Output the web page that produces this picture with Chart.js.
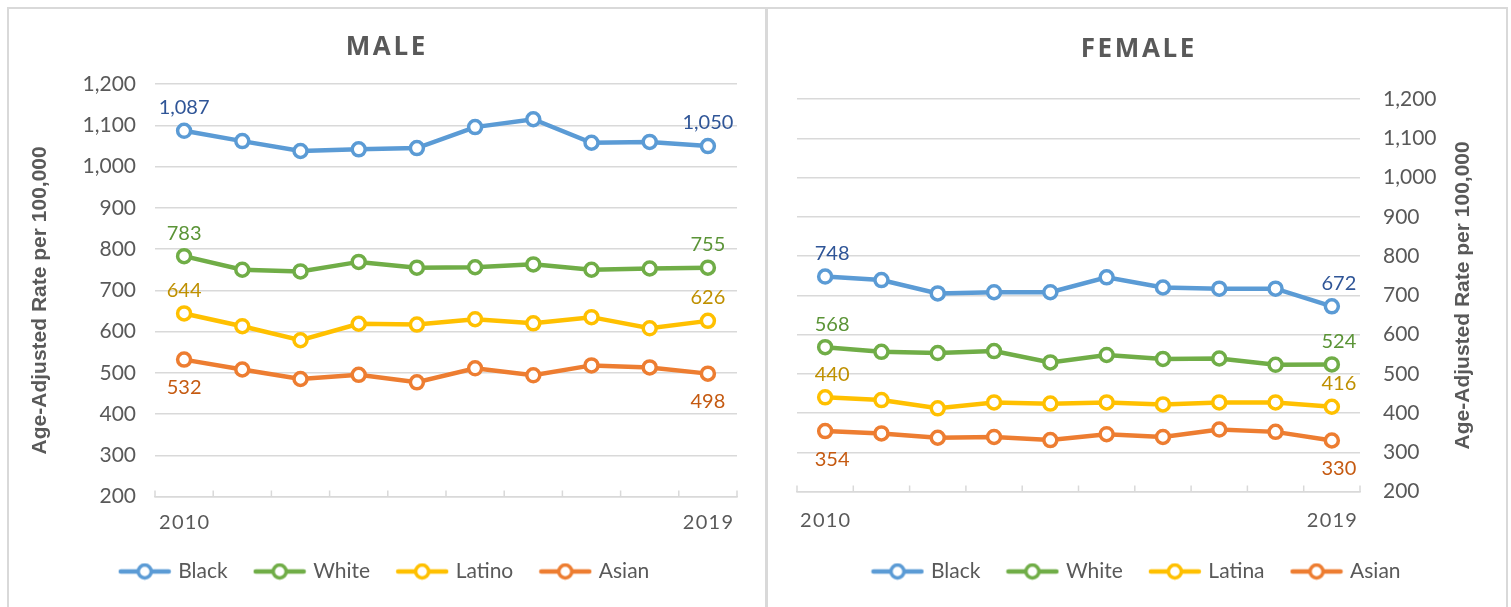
<!DOCTYPE html>
<html>
<head>
<meta charset="utf-8">
<script src="https://cdn.jsdelivr.net/npm/chart.js@4.4.1/dist/chart.umd.min.js"></script>
<style>
body{margin:0;background:#fff;}
.line{position:absolute;background:#d9d9d9;}
.box{position:absolute;top:8px;height:595px;}
</style>
</head>
<body>
<div class="line" style="left:7px;top:7px;width:1501px;height:2px"></div>
<div class="line" style="left:7px;top:7px;width:2px;height:600px"></div>
<div class="line" style="left:765px;top:7px;width:3px;height:600px"></div>
<div class="line" style="left:1506px;top:7px;width:2px;height:600px"></div>

<div class="box" style="left:8px;width:755px"><canvas id="maleChart" width="755" height="595"></canvas></div>
<div class="box" style="left:768px;width:739px"><canvas id="femaleChart" width="739" height="595"></canvas></div>

<script>
const years=['2010','2011','2012','2013','2014','2015','2016','2017','2018','2019'];

const maleBlack=[1087,1062,1038,1042,1045,1096,1115,1058,1060,1050];
const maleWhite=[783,750,746,769,755,756,763,750,753,755];
const maleLatino=[644,613,579,619,617,630,620,635,608,626];
const maleAsian=[532,508,485,495,477,511,494,518,513,498];

const femaleBlack=[748,739,705,708,708,746,720,717,717,672];
const femaleWhite=[568,556,553,558,529,548,538,539,523,524];
const femaleLatina=[440,433,412,427,424,427,422,427,427,416];
const femaleAsian=[354,348,337,339,331,346,339,358,352,330];

const yMin=200, yMax=1200, yStep=100;
const yTitle='Age-Adjusted Rate per 100,000';

const colors={black:'#5b9bd5',white:'#70ad47',latino:'#ffc000',asian:'#ed7d31'};
const labelColors={black:'#2f5597',white:'#5b9437',latino:'#bf9000',asian:'#c55a11'};
const grey='#595959';
const gridColor='#d9d9d9';

// spread the letters of a word with hair spaces
function spaced(s){
return s.split('').join('\u200A');
}

function legendIcon(color){
let c=document.createElement('canvas');
c.width=54;c.height=18;
let g=c.getContext('2d');
g.strokeStyle=color;
g.lineCap='round';
g.lineWidth=4.5;
g.beginPath();g.moveTo(3,9);g.lineTo(51,9);g.stroke();
g.beginPath();g.arc(27,9,6.5,0,Math.PI*2);
g.fillStyle='#fff';g.fill();
g.lineWidth=3.5;g.stroke();
return c;
}

function series(label,data,key,below){
return {
label:label,
data:data,
borderColor:colors[key],
backgroundColor:'#fff',
borderWidth:4.5,
pointRadius:6.5,
pointHoverRadius:6.5,
pointBorderWidth:3.5,
pointBackgroundColor:'#fff',
pointBorderColor:colors[key],
tension:0,
labelColor:labelColors[key],
labelBelow:below,
icon:legendIcon(colors[key])
};
}

// values written at the first and last point of every line
const endLabels={
id:'endLabels',
afterDatasetsDraw(chart,args,opts){
let ctx=chart.ctx;
chart.data.datasets.forEach((ds,i)=>{
let meta=chart.getDatasetMeta(i);
[0,ds.data.length-1].forEach(j=>{
let pt=meta.data[j];
ctx.save();
ctx.font='20px Lato';
ctx.fillStyle=ds.labelColor;
ctx.textAlign='center';
ctx.textBaseline='middle';
ctx.fillText(ds.data[j].toLocaleString('en-US'),pt.x+opts.dx,pt.y+(ds.labelBelow?28:-23));
ctx.restore();
});
});
}
};

// short tick marks pointing up from the bottom axis, between categories
const innerTicks={
id:'innerTicks',
beforeDatasetsDraw(chart){
let x=chart.scales.x;
let ctx=chart.ctx;
ctx.save();
ctx.strokeStyle=gridColor;
ctx.lineWidth=1.5;
for(let i=0;i<=years.length;i++){
let px=x.getPixelForValue(i-0.5);
ctx.beginPath();
ctx.moveTo(px,x.top);
ctx.lineTo(px,x.top-6);
ctx.stroke();
}
ctx.restore();
}
};

// vertical axis title, always reading bottom to top
const axisTitle={
id:'axisTitle',
afterDraw(chart,args,opts){
let y=chart.scales.y;
let a=chart.chartArea;
let ctx=chart.ctx;
let x=opts.side==='right'?y.right-44:y.left+32;
ctx.save();
ctx.font='bold 21px "Liberation Sans"';
ctx.fillStyle=grey;
ctx.textAlign='center';
ctx.textBaseline='middle';
ctx.translate(x,(a.top+a.bottom)/2+opts.dy);
ctx.rotate(-Math.PI/2);
ctx.fillText(yTitle,0,0);
ctx.restore();
}
};

function makeChart(id,title,datasets,side){
let right=side==='right';
return new Chart(document.getElementById(id),{
type:'line',
data:{labels:years,datasets:datasets},
plugins:[innerTicks,endLabels,axisTitle],
options:{
responsive:false,
animation:false,
layout:{padding:{left:0,right:0,top:0,bottom:21}},
plugins:{
title:{
display:true,
text:spaced(title),
color:grey,
font:{family:'Open Sans',size:26,weight:'bold'},
padding:right?{top:26,bottom:34}:{top:24,bottom:21}
},
legend:{
position:'bottom',
maxHeight:50,
labels:{
usePointStyle:true,
pointStyleWidth:46,
padding:29,
color:grey,
font:{family:'Lato',size:21},
generateLabels:chart=>chart.data.datasets.map((ds,i)=>({
text:ds.label,
pointStyle:ds.icon,
fontColor:grey,
datasetIndex:i,
hidden:false,
lineWidth:0,
strokeStyle:'transparent',
fillStyle:'transparent'
}))
}
},
tooltip:{enabled:false},
endLabels:{dx:right?7:0},
axisTitle:{side:side,dy:right?0:10}
},
scales:{
x:{
offset:true,
grid:{display:false},
border:{display:true,color:gridColor,width:1.5},
ticks:{
autoSkip:false,
maxRotation:0,
padding:right?9:6,
color:grey,
font:{family:'Lato',size:20},
callback:(v,i)=>(i===0||i===years.length-1)?spaced(years[i]):''
},
afterFit:s=>{s.height=right?40.5:35.5;}
},
y:{
position:side,
min:yMin,
max:yMax,
grid:{color:gridColor,lineWidth:1.5,drawTicks:false},
border:{display:false},
ticks:{
stepSize:yStep,
padding:right?23:19,
color:grey,
font:{family:'Lato',size:21}
},
afterFit:s=>{s.width=147;}
},
// empty margin on the side opposite the value axis
edge:{
type:'linear',
position:right?'left':'right',
display:true,
grid:{display:false},
border:{display:false},
ticks:{display:false},
afterFit:s=>{s.width=right?29:26;}
}
}
}
});
}

makeChart('maleChart','MALE',[
series('Black',maleBlack,'black',false),
series('White',maleWhite,'white',false),
series('Latino',maleLatino,'latino',false),
series('Asian',maleAsian,'asian',true)
],'left');

makeChart('femaleChart','FEMALE',[
series('Black',femaleBlack,'black',false),
series('White',femaleWhite,'white',false),
series('Latina',femaleLatina,'latino',false),
series('Asian',femaleAsian,'asian',true)
],'right');
</script>
</body>
</html>
